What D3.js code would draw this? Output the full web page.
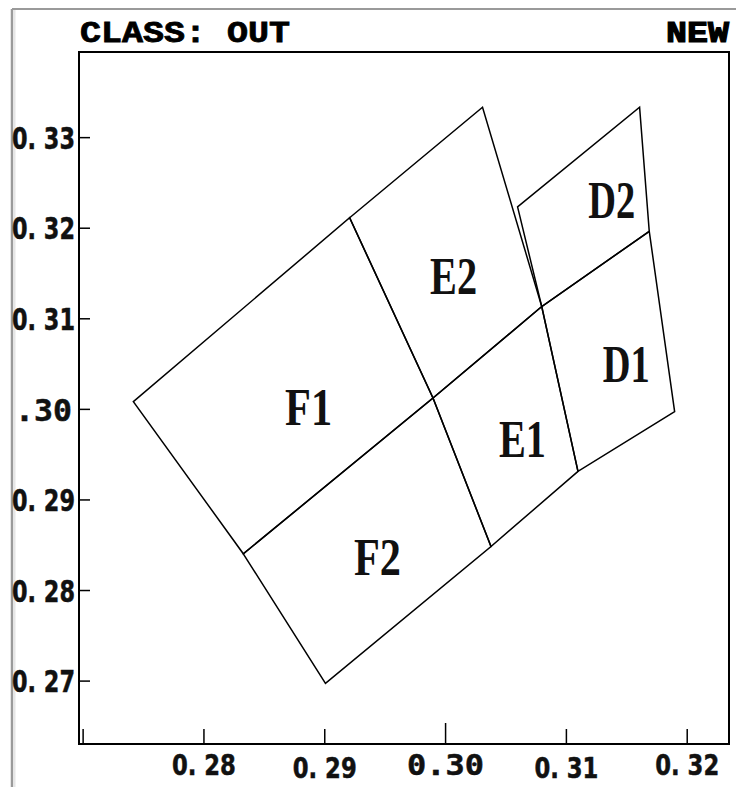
<!DOCTYPE html>
<html>
<head>
<meta charset="utf-8">
<script src="https://cdn.jsdelivr.net/npm/d3@7"></script>
<style>
  html, body { margin: 0; padding: 0; background: #fff; }
  svg { display: block; }
</style>
</head>
<body>
<div id="chart"></div>
<script>
// ---- data ----
const titleLeft = "CLASS:  OUT";
const titleRight = "NEW";

const xTickValues = [0.27, 0.28, 0.29, 0.30, 0.31, 0.32];
const xTickLabels = ["", "0. 28", "0. 29", "0.30", "0. 31", "0. 32"];
const yTickValues = [0.33, 0.32, 0.31, 0.30, 0.29, 0.28, 0.27];
const yTickLabels = ["0. 33", "0. 32", "0. 31", ".30", "0. 29", "0. 28", "0. 27"];

const binNames = ["F1", "F2", "E1", "E2", "D1", "D2"];
const binX = [
  [0.2742, 0.2921, 0.2990, 0.2833],
  [0.2833, 0.2990, 0.3038, 0.2901],
  [0.2990, 0.3080, 0.3110, 0.3038],
  [0.2921, 0.3031, 0.3080, 0.2990],
  [0.3080, 0.3169, 0.3190, 0.3110],
  [0.3060, 0.3161, 0.3169, 0.3080]
];
const binY = [
  [0.3008, 0.3211, 0.3012, 0.2840],
  [0.2840, 0.3012, 0.2848, 0.2697],
  [0.3012, 0.3113, 0.2931, 0.2848],
  [0.3211, 0.3333, 0.3113, 0.3012],
  [0.3113, 0.3196, 0.2997, 0.2931],
  [0.3223, 0.3333, 0.3196, 0.3113]
];
const labelX = [0.2887, 0.2944, 0.3064, 0.3007, 0.3150, 0.3138];
const labelY = [0.3002, 0.2836, 0.2967, 0.3147, 0.3049, 0.3231];

const xDomain = [0.2697, 0.3235];
const yDomain = [0.2630, 0.3394];

// ---- layout ----
const W = 736, H = 787;
const mLeft = 79, mRight = 729, mTop = 52, mBottom = 744;

const svg = d3.select("#chart").append("svg")
  .attr("width", W).attr("height", H);

svg.append("rect").attr("width", W).attr("height", H).attr("fill", "#fff");

// window frame (gray)
svg.append("line").attr("x1", 12).attr("x2", W).attr("y1", 9).attr("y2", 9)
  .attr("stroke", "#9a9a9a").attr("stroke-width", 2);
svg.append("line").attr("x1", 12).attr("x2", 12).attr("y1", 9).attr("y2", H)
  .attr("stroke", "#9a9a9a").attr("stroke-width", 2.5);
svg.append("line").attr("x1", 14.5).attr("x2", 14.5).attr("y1", 10).attr("y2", H)
  .attr("stroke", "#e6e6e6").attr("stroke-width", 2);

const x = d3.scaleLinear().domain(xDomain).range([mLeft, mRight]);
const y = d3.scaleLinear().domain(yDomain).range([mBottom, mTop]);

// titles
svg.append("text").text(titleLeft)
  .attr("x", 80).attr("y", 42)
  .attr("font-family", "Liberation Mono, DejaVu Sans Mono, monospace")
  .attr("font-weight", "bold").attr("font-size", 30)
  .attr("stroke", "#000").attr("stroke-width", 0.8)
  .attr("textLength", 210).attr("lengthAdjust", "spacingAndGlyphs")
  .attr("fill", "#000");
svg.append("text").text(titleRight)
  .attr("x", 729).attr("y", 42).attr("text-anchor", "end")
  .attr("font-family", "Liberation Mono, DejaVu Sans Mono, monospace")
  .attr("font-weight", "bold").attr("font-size", 30)
  .attr("stroke", "#000").attr("stroke-width", 1.2)
  .attr("textLength", 63).attr("lengthAdjust", "spacingAndGlyphs")
  .attr("fill", "#000");

// polygons
const line = d3.line().x(d => x(d[0])).y(d => y(d[1])).curve(d3.curveLinearClosed);
const polys = binNames.map((n, i) => binX[i].map((vx, j) => [vx, binY[i][j]]));
svg.append("g").selectAll("path").data(polys).join("path")
  .attr("d", line)
  .attr("fill", "none").attr("stroke", "#000").attr("stroke-width", 1.5)
  .attr("stroke-linejoin", "miter");

// bin labels
svg.append("g").selectAll("text").data(binNames).join("text")
  .text(d => d)
  .attr("x", (d, i) => x(labelX[i]))
  .attr("y", (d, i) => y(labelY[i]) + 18)
  .attr("text-anchor", "middle")
  .attr("font-family", "Liberation Serif, DejaVu Serif, serif")
  .attr("font-weight", "bold").attr("font-size", 52)
  .attr("textLength", 47).attr("lengthAdjust", "spacingAndGlyphs")
  .attr("fill", "#111");

// plot box
svg.append("rect")
  .attr("x", mLeft).attr("y", mTop)
  .attr("width", mRight - mLeft).attr("height", mBottom - mTop)
  .attr("fill", "none").attr("stroke", "#000").attr("stroke-width", 2);

// axes
const xAxis = d3.axisBottom(x)
  .tickValues(xTickValues)
  .tickFormat((d, i) => xTickLabels[i])
  .tickSizeInner(-15).tickSizeOuter(0).tickPadding(12);
const gx = svg.append("g").attr("transform", `translate(0,${mBottom})`).call(xAxis);
gx.select(".domain").remove();
gx.selectAll(".tick line").attr("stroke", "#000").attr("stroke-width", 1.5)
  .attr("y2", (d, i) => xTickValues[i] === 0.30 ? -21 : -15);
gx.selectAll(".tick text")
  .attr("fill", "#111")
  .attr("stroke", "#111").attr("stroke-width", 0.5)
  .attr("dy", null)
  .attr("y", (d, i) => (i === 2 || i === 4) ? 34 : 31)
  .attr("font-family", (d, i) => xTickLabels[i] === "0.30" ? "DejaVu Sans Mono, monospace" : "DejaVu Sans, sans-serif")
  .attr("font-weight", "bold")
  .attr("font-size", 28)
  .attr("textLength", (d, i) => xTickLabels[i] === "0.30" ? 77 : 64)
  .attr("lengthAdjust", "spacingAndGlyphs");

const yAxis = d3.axisLeft(y)
  .tickValues(yTickValues)
  .tickFormat((d, i) => yTickLabels[i])
  .tickSizeInner(-11).tickSizeOuter(0).tickPadding(4);
const gy = svg.append("g").attr("transform", `translate(${mLeft},0)`).call(yAxis);
gy.select(".domain").remove();
gy.selectAll(".tick line").attr("stroke", "#000").attr("stroke-width", 1.5);
gy.selectAll(".tick text")
  .attr("fill", "#111")
  .attr("stroke", "#111").attr("stroke-width", 0.5)
  .attr("dy", "0.36em")
  .attr("x", (d, i) => yTickLabels[i] === ".30" ? -7 : -4)
  .attr("font-family", (d, i) => yTickLabels[i] === ".30" ? "DejaVu Sans Mono, monospace" : "DejaVu Sans, sans-serif")
  .attr("font-weight", "bold")
  .attr("font-size", 31)
  .attr("textLength", (d, i) => yTickLabels[i] === ".30" ? 57 : 63)
  .attr("lengthAdjust", "spacingAndGlyphs");
</script>
</body>
</html>
